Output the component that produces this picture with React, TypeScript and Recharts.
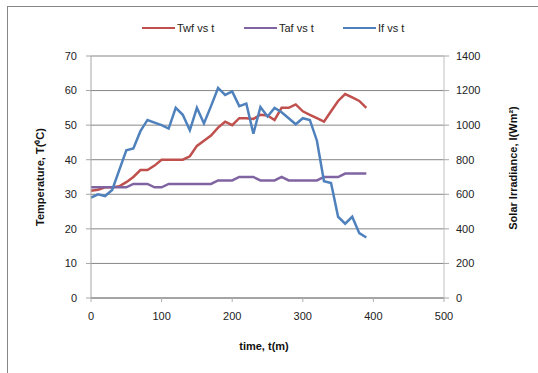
import { LineChart, Line, XAxis, YAxis, CartesianGrid } from "recharts";

// sampling times (min)
const TIME = [
  0, 10, 20, 30, 40, 50, 60, 70, 80, 90, 100, 110, 120, 130, 140, 150, 160, 170, 180, 190,
  200, 210, 220, 230, 240, 250, 260, 270, 280, 290, 300, 310, 320, 330, 340, 350, 360, 370, 380, 390,
];

// water temperature Twf (°C)
const TWF = [
  31, 31.3, 32, 32, 32.3, 33.5, 35, 37, 37, 38.3, 40, 40, 40, 40, 41, 44, 45.5, 47, 49.3, 51,
  50, 52, 52, 51.8, 53, 52.8, 51.5, 55, 55, 56, 54, 53, 52, 51, 54, 57, 59, 58, 57, 55,
];

// ambient temperature Taf (°C)
const TAF = [
  32, 32, 32, 32, 32, 32, 33, 33, 33, 32, 32, 33, 33, 33, 33, 33, 33, 33, 34, 34,
  34, 35, 35, 35, 34, 34, 34, 35, 34, 34, 34, 34, 34, 35, 35, 35, 36, 36, 36, 36,
];

// solar irradiance If (W/m2)
const IRR = [
  580, 600, 590, 625, 740, 855, 865, 965, 1030, 1015, 1000, 980, 1100, 1060, 970, 1100, 1010, 1110, 1215, 1175,
  1195, 1110, 1125, 950, 1105, 1050, 1100, 1075, 1040, 1005, 1040, 1030, 910, 675, 665, 470, 430, 470, 375, 350,
];

const X_TICKS = [0, 100, 200, 300, 400, 500];
const T_TICKS = [0, 10, 20, 30, 40, 50, 60, 70];
const I_TICKS = [0, 200, 400, 600, 800, 1000, 1200, 1400];

const SERIES = [
  { key: "twf", name: "Twf vs t", color: "#C0504D", axis: "left" },
  { key: "taf", name: "Taf vs t", color: "#8064A2", axis: "left" },
  { key: "irr", name: "If vs t", color: "#4F81BD", axis: "right" },
];

const data = TIME.map((t, i) => ({ t, twf: TWF[i], taf: TAF[i], irr: IRR[i] }));

const FONT = "'Liberation Sans', Arial, sans-serif";
const tickStyle = { fill: "#222", fontSize: 11, fontFamily: FONT };

export default function App() {
  return (
    <div
      style={{
        position: "absolute",
        left: 0,
        top: 0,
        width: 538,
        height: 373,
        overflow: "hidden",
        background: "#fff",
      }}
    >
      <div
        style={{
          position: "absolute",
          left: 7,
          top: 6,
          width: 560,
          height: 400,
          border: "1px solid #868686",
        }}
      />
      <LineChart
        width={538}
        height={373}
        data={data}
        margin={{ top: 56, right: 0, bottom: 45, left: 0 }}
        style={{ position: "absolute", left: 0, top: 0 }}
      >
        <CartesianGrid yAxisId="left" vertical={false} stroke="#868686" strokeWidth={1} />
        <XAxis
          dataKey="t"
          type="number"
          domain={[0, 500]}
          ticks={X_TICKS}
          height={30}
          tick={tickStyle}
          tickSize={4}
          tickMargin={10}
          axisLine={{ stroke: "#868686" }}
          tickLine={{ stroke: "#b0b0b0" }}
        />
        <YAxis
          yAxisId="left"
          domain={[0, 70]}
          ticks={T_TICKS}
          width={91}
          tick={tickStyle}
          tickSize={5}
          tickMargin={9}
          axisLine={{ stroke: "#a6a6a6" }}
          tickLine={{ stroke: "#a6a6a6" }}
        />
        <YAxis
          yAxisId="right"
          orientation="right"
          domain={[0, 1400]}
          ticks={I_TICKS}
          width={94}
          tick={{ ...tickStyle, textAnchor: "start" }}
          tickSize={5}
          tickMargin={7}
          axisLine={{ stroke: "#c0c0c0" }}
          tickLine={{ stroke: "#a6a6a6" }}
        />
        {SERIES.map((s) => (
          <Line
            key={s.key}
            yAxisId={s.axis}
            dataKey={s.key}
            name={s.name}
            type="linear"
            stroke={s.color}
            strokeWidth={2.5}
            dot={false}
            isAnimationActive={false}
          />
        ))}
      </LineChart>
      <svg
        width={538}
        height={373}
        style={{ position: "absolute", left: 0, top: 0, pointerEvents: "none" }}
        fontFamily={FONT}
      >
        {/* legend */}
        {SERIES.map((s, i) => {
          const x0 = [142, 244, 343][i];
          return (
            <g key={s.key}>
              <line x1={x0} x2={x0 + 33} y1={28} y2={28} stroke={s.color} strokeWidth={2} />
              <text x={x0 + 35} y={32} fontSize={11} fill="#222">
                {s.name}
              </text>
            </g>
          );
        })}
        <text x={264} y={350} fontSize={11} fontWeight="bold" textAnchor="middle" fill="#111">
          time, t(m)
        </text>
        <text
          transform="translate(44,177) rotate(-90)"
          fontSize={11}
          fontWeight="bold"
          textAnchor="middle"
          fill="#111"
        >
          Temperature, T(⁰C)
        </text>
        <text
          transform="translate(517,168) rotate(-90)"
          fontSize={11}
          fontWeight="bold"
          textAnchor="middle"
          fill="#111"
        >
          Solar Irradiance, I(Wm²)
        </text>
      </svg>
    </div>
  );
}
